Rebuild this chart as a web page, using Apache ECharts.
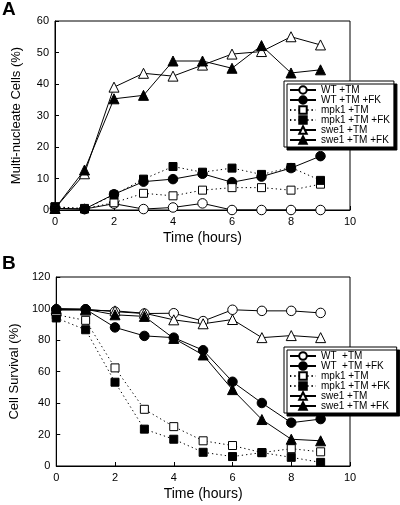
<!DOCTYPE html>
<html><head><meta charset="utf-8">
<script src="https://cdn.jsdelivr.net/npm/echarts@6/dist/echarts.min.js"></script>
<style>html,body{margin:0;padding:0;background:#fff}#c{width:400px;height:505px}</style>
</head><body><div id="c"></div>
<script>
var hours = [0,1,2,3,4,5,6,7,8,9];
var xTicks = [0,2,4,6,8,10];
// Panel A: Multi-nucleate Cells (%)
var wtTM_A    = [0.5, 0.3, 2.0, 0.3, 0.8, 2.1, 0, 0, 0, 0];
var wtTMFK_A  = [0.5, 0.3, 5.0, 9.0, 9.8, 11.5, 8.8, 10.6, 13.3, 17.1];
var mpkTM_A   = [1.0, 0.5, 2.3, 5.3, 4.5, 6.3, 7.1, 7.1, 6.3, 8.2];
var mpkTMFK_A = [1.0, 0.3, 4.8, 9.8, 13.8, 12.0, 13.3, 11.3, 13.5, 9.4];
var sweTM_A   = [0.5, 11.5, 39.0, 43.4, 42.5, 46.0, 49.5, 50.3, 55.0, 52.4];
var sweTMFK_A = [0.5, 12.7, 35.3, 36.4, 47.3, 47.3, 45.0, 52.2, 43.5, 44.5];
// Panel B: Cell Survival (%)
var wtTM_B    = [99.5, 99.5, 98.0, 96.8, 97.0, 92.0, 99.2, 98.5, 98.5, 97.2];
var wtTMFK_B  = [99.5, 99.5, 88.0, 82.6, 81.5, 73.5, 53.5, 40.0, 27.5, 29.8];
var mpkTM_B   = [96.0, 92.5, 62.3, 36.0, 25.0, 16.0, 13.0, 8.5, 11.0, 9.0];
var mpkTMFK_B = [94.0, 86.5, 53.2, 23.4, 17.0, 8.7, 6.0, 8.5, 5.5, 2.3];
var sweTM_B   = [99.0, 99.0, 98.5, 97.0, 92.8, 90.3, 93.0, 81.5, 82.8, 81.5];
var sweTMFK_B = [100, 99.5, 96.0, 95.0, 81.0, 70.5, 48.5, 29.5, 17.0, 16.0];

var namesA = ['WT +TM','WT +TM +FK','mpk1 +TM','mpk1 +TM +FK','swe1 +TM','swe1 +TM +FK'];
var namesB = ['WT  +TM','WT  +TM +FK','mpk1 +TM ','mpk1 +TM +FK ','swe1 +TM ','swe1 +TM +FK '];
var yTicksA = [0,10,20,30,40,50,60];
var yTicksB = [0,20,40,60,80,100,120];

var styles = [
  {symbol:'circle', size:9.5, fill:'#fff', dash:'solid'},
  {symbol:'circle', size:9.5, fill:'#000', dash:'solid'},
  {symbol:'rect', size:8, fill:'#fff', dash:[1.3,3]},
  {symbol:'rect', size:8, fill:'#000', dash:[1.3,3]},
  {symbol:'triangle', size:10, fill:'#fff', dash:'solid'},
  {symbol:'triangle', size:10, fill:'#000', dash:'solid'}
];
function pairs(v){ return v.map(function(y,i){ return [hours[i], y]; }); }
function mk(name, vals, st, idx){
  return {
    type:'line', name:name, xAxisIndex:idx, yAxisIndex:idx,
    data: pairs(vals), symbol: st.symbol, symbolSize: st.size,
    lineStyle:{color:'#000', width:1, type: st.dash},
    itemStyle:{color: st.fill, borderColor:'#000', borderWidth:1},
    emphasis:{disabled:true}, animation:false
  };
}
var series = [];
var aVals = [wtTM_A, wtTMFK_A, mpkTM_A, mpkTMFK_A, sweTM_A, sweTMFK_A];
var bVals = [wtTM_B, wtTMFK_B, mpkTM_B, mpkTMFK_B, sweTM_B, sweTMFK_B];
aVals.forEach(function(v,i){ series.push(mk(namesA[i], v, styles[i], 0)); });
bVals.forEach(function(v,i){ series.push(mk(namesB[i], v, styles[i], 1)); });

var font = 'Liberation Sans, Arial, sans-serif';
function xAxis(idx){
  return {type:'value', gridIndex:idx, min:xTicks[0], max:xTicks[xTicks.length-1], interval:2,
    name:'Time (hours)', nameLocation:'middle', nameGap:21,
    nameTextStyle:{fontFamily:font, fontSize:14, color:'#000'},
    axisLine:{lineStyle:{color:'#000', width:1}},
    axisTick:{inside:true, length:4, lineStyle:{color:'#000'}},
    axisLabel:{fontFamily:font, fontSize:11, color:'#000', margin:6},
    splitLine:{show:false}};
}
function yAxis(idx, ticks, name){
  return {type:'value', gridIndex:idx, min:ticks[0], max:ticks[ticks.length-1], interval:ticks[1]-ticks[0],
    name:name, nameLocation:'middle', nameGap:32,
    nameTextStyle:{fontFamily:font, fontSize:13, color:'#000'},
    axisLine:{lineStyle:{color:'#000', width:1}},
    axisTick:{inside:true, length:4, lineStyle:{color:'#000'}},
    axisLabel:{fontFamily:font, fontSize:11, color:'#000', margin:6},
    splitLine:{show:false}};
}
function legend(names, top, rowH){
  return {data:names, orient:'vertical', left:284, top:top, itemWidth:26, itemHeight:rowH, itemGap:0,
    backgroundColor:'#fff', borderColor:'#000', borderWidth:1, padding:[4,4,2,5],
    shadowColor:'#000', shadowBlur:0, shadowOffsetX:3, shadowOffsetY:3,
    textStyle:{fontFamily:font, fontSize:10, lineHeight:rowH, color:'#000'},
    selectedMode:false};
}
var chart = echarts.init(document.getElementById('c'), null, {renderer:'canvas'});
chart.setOption({
  backgroundColor:'#fff',
  animation:false,
  grid:[
    {left:55, top:21, width:295, height:189, show:true, borderColor:'#000', borderWidth:1, backgroundColor:'transparent'},
    {left:55, top:277, width:295, height:189, show:true, borderColor:'#000', borderWidth:1, backgroundColor:'transparent'}
  ],
  xAxis:[xAxis(0), xAxis(1)],
  yAxis:[yAxis(0, yTicksA, 'Multi-nucleate Cells (%)'), yAxis(1, yTicksB, 'Cell Survival (%)')],
  legend:[legend(namesA, 81, 9.33), legend(namesB, 347, 9.5)],
  graphic:[
    {type:'text', left:2, top:0, style:{text:'A', font:'bold 19px ' + font, fill:'#000'}},
    {type:'text', left:2, top:254, style:{text:'B', font:'bold 19px ' + font, fill:'#000'}}
  ],
  series: series
});
</script></body></html>
